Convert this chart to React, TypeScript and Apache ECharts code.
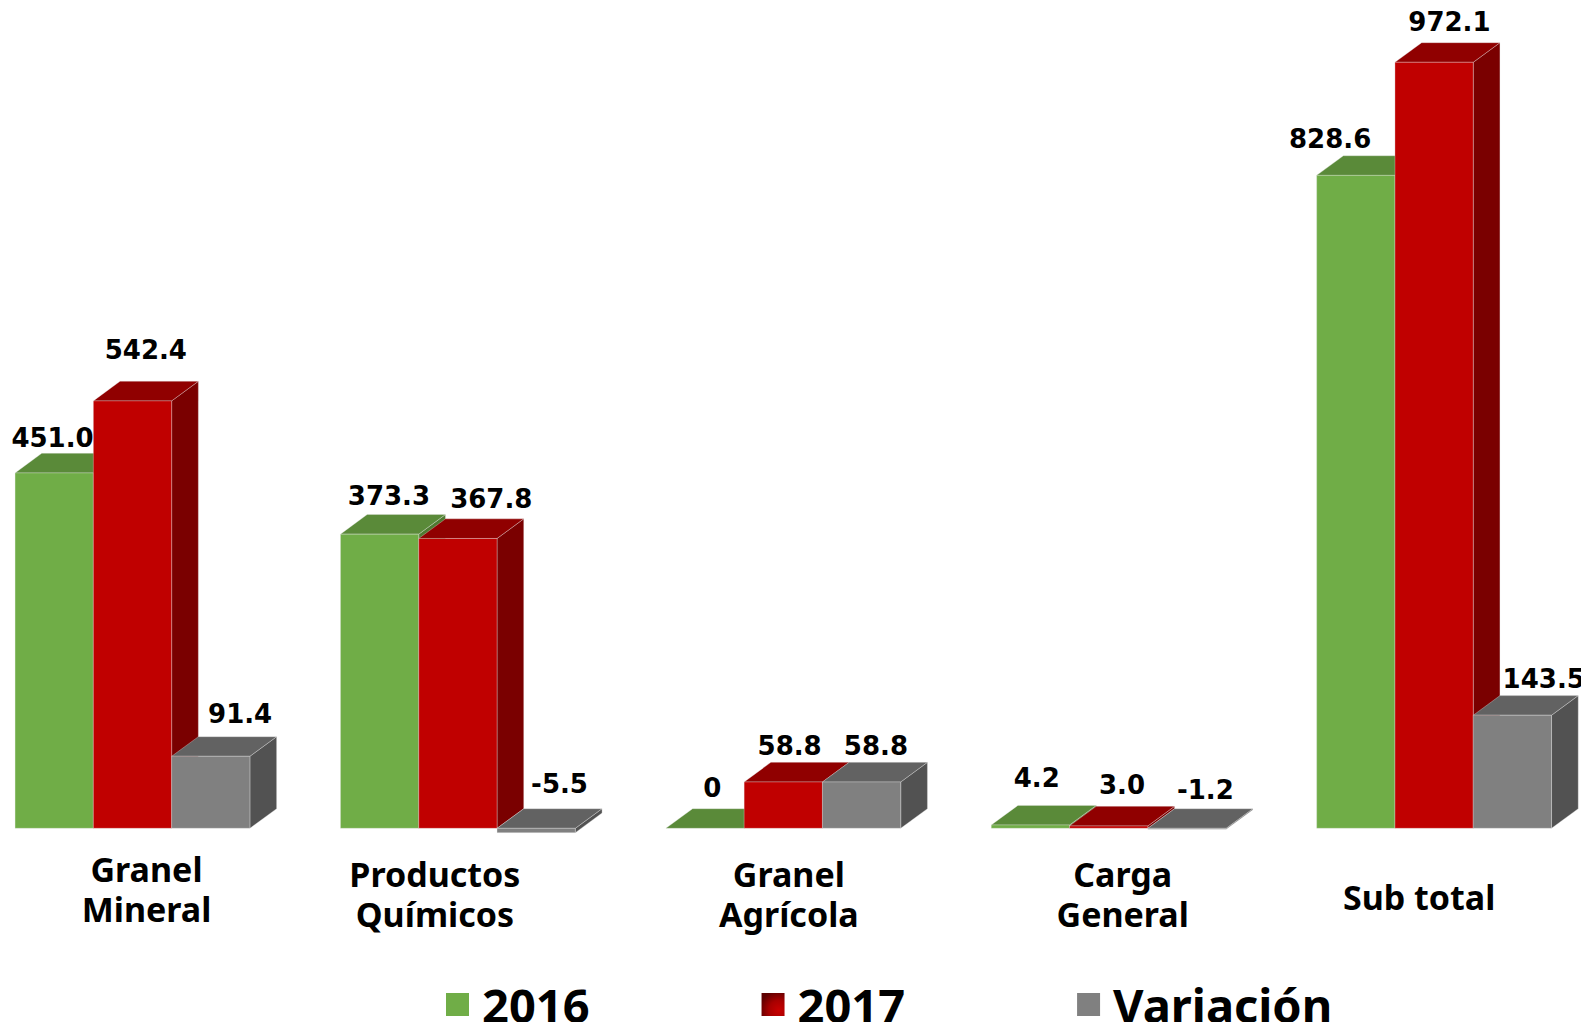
import React, { useEffect, useRef } from "react";
import * as echarts from "echarts";

// ---- data ----
const CATEGORIES = ["Granel\nMineral", "Productos\nQuímicos", "Granel\nAgrícola", "Carga\nGeneral", "Sub total"];
const SERIES_NAMES = ["2016", "2017", "Variación"];
const VALUES_2016 = [451.0, 373.3, 0, 4.2, 828.6];
const VALUES_2017 = [542.4, 367.8, 58.8, 3.0, 972.1];
const VALUES_VARIACION = [91.4, -5.5, 58.8, -1.2, 143.5];
const SERIES_VALUES = [VALUES_2016, VALUES_2017, VALUES_VARIACION];

// ---- styling ----
const FACES = [
  { front: "#70AD47", top: "#5A8A39", side: "#4F7A31" },
  { front: "#C00000", top: "#900000", side: "#7A0000" },
  { front: "#808080", top: "#626262", side: "#525252" },
];
const BAR_RATIO = 0.2406;
const DEPTH_X = 26.7;
const DEPTH_Y = 19.6;
const LABEL_GAP = 20;
// small manual nudges of the value labels [series][category]
const LABEL_DX = [
  [-15, -4, -6, -7, -39],
  [0, 20, -7, 0, 2],
  [16, 10, 1, 5, 18],
];
const LABEL_DY = [
  [5, 1, -1, -7, 3],
  [-11, 0, 4, -1, -1],
  [-3, -5, 4, 1, 3],
];
// padding of the category labels [top, right, bottom, left]
const CAT_PAD = [
  [0, 0, 0, 28],
  [5, 46, 0, 0],
  [5, 0, 0, 11],
  [5, 0, 0, 28],
  [28, 30, 0, 0],
];

function fmt(v: number): string {
  return v === 0 ? "0" : v.toFixed(1);
}

function makeRenderItem(s: number) {
  return (params: any, api: any) => {
    const idx = api.value(0);
    const v = api.value(1);
    const base = api.coord([idx, 0]);
    const tip = api.coord([idx, v]);
    const band = api.size([1, 0])[0];
    const w = band * BAR_RATIO;
    const x0 = base[0] - 1.5 * w + s * w;
    const x1 = x0 + w;
    const yA = Math.min(base[1], tip[1]);
    const yB = Math.max(base[1], tip[1]);
    const f = FACES[s];
    const edge = "rgba(235,235,235,0.55)";
    const children: any[] = [
      {
        type: "polygon",
        shape: { points: [[x1, yA], [x1 + DEPTH_X, yA - DEPTH_Y], [x1 + DEPTH_X, yB - DEPTH_Y], [x1, yB]] },
        style: { fill: f.side, stroke: edge, lineWidth: 0.6 },
      },
      {
        type: "polygon",
        shape: { points: [[x0, yA], [x0 + DEPTH_X, yA - DEPTH_Y], [x1 + DEPTH_X, yA - DEPTH_Y], [x1, yA]] },
        style: { fill: f.top, stroke: edge, lineWidth: 0.6 },
      },
    ];
    if (yB - yA > 0.01) {
      children.push({
        type: "rect",
        shape: { x: x0, y: yA, width: w, height: yB - yA },
        style: { fill: f.front, stroke: edge, lineWidth: 0.6 },
      });
    }
    children.push({
      type: "text",
      z2: 10,
      style: {
        text: fmt(v),
        x: x0 + w / 2 + DEPTH_X / 2 + LABEL_DX[s][idx],
        y: yA - DEPTH_Y - LABEL_GAP + LABEL_DY[s][idx],
        align: "center",
        verticalAlign: "middle",
        textAlign: "center",
        textVerticalAlign: "middle",
        fontFamily: "DejaVu Sans",
        fontWeight: "bold",
        fontSize: 26,
        fill: "#000",
      },
    });
    return { type: "group", children };
  };
}

export default function App() {
  const ref = useRef<HTMLDivElement>(null);
  useEffect(() => {
    if (!ref.current) return;
    const chart = echarts.init(ref.current, null, { renderer: "svg" });
    const legendColors: any[] = [
      "#70AD47",
      new echarts.graphic.RadialGradient(0.75, 0.75, 0.85, [
        { offset: 0, color: "#C80000" },
        { offset: 0.5, color: "#A80000" },
        { offset: 1, color: "#5E0000" },
      ]),
      "#808080",
    ];
    const option: any = {
      animation: false,
      backgroundColor: "#ffffff",
      grid: { left: -30.2, right: -15.8, top: 40.3, bottom: 193.7, containLabel: false, outerBoundsMode: "none" },
      xAxis: {
        type: "category",
        data: CATEGORIES.map((c, i) => ({ value: c, textStyle: { padding: CAT_PAD[i] } })),
        axisLine: { show: false },
        axisTick: { show: false },
        splitLine: { show: false },
        axisLabel: {
          interval: 0,
          margin: 21,
          fontFamily: "Noto Sans",
          fontWeight: "bold",
          fontSize: 34,
          lineHeight: 40,
          color: "#000",
        },
      },
      yAxis: { type: "value", min: 0, max: 1000, show: false, splitLine: { show: false } },
      legend: {
        left: 446,
        top: 981,
        padding: 0,
        icon: "rect",
        itemWidth: 23,
        itemHeight: 23,
        itemGap: 172,
        textStyle: {
          fontFamily: "Noto Sans",
          fontWeight: "bold",
          fontSize: 47,
          lineHeight: 47,
          color: "#000",
          padding: [0, 0, 0, 8],
        },
        data: SERIES_NAMES.map((n, i) => ({ name: n, itemStyle: { color: legendColors[i] } })),
      },
      series: SERIES_NAMES.map((name, s) => ({
        type: "custom",
        name,
        z: 2 + s,
        itemStyle: { color: FACES[s].front },
        renderItem: makeRenderItem(s),
        encode: { x: 0, y: 1 },
        data: SERIES_VALUES[s].map((v, i) => [i, v]),
      })),
    };
    chart.setOption(option);
    return () => chart.dispose();
  }, []);
  return (
    <div
      ref={ref}
      style={{ position: "absolute", left: 0, top: 0, width: 1581, height: 1022, background: "#fff" }}
    />
  );
}
